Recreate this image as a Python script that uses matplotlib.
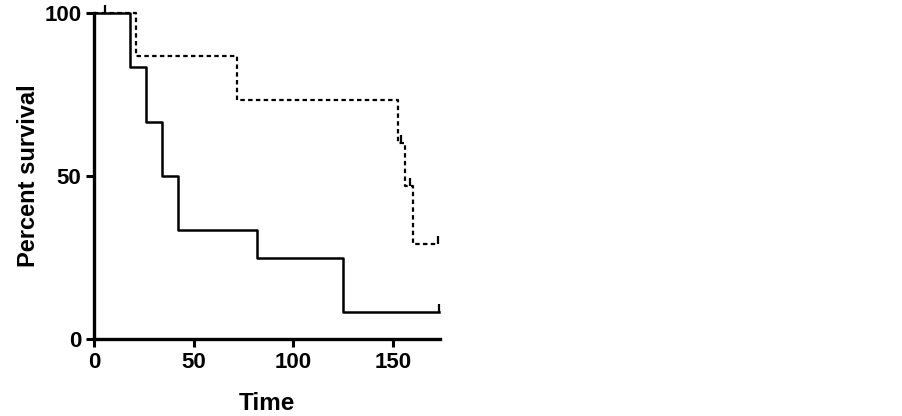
import numpy as np
import matplotlib
matplotlib.use("Agg")
import matplotlib.pyplot as plt
from matplotlib.path import Path

# Kaplan-Meier steps
solid_time = [0, 18, 26, 34, 42, 82, 125, 173]
solid_surv = [100, 83.3, 66.7, 50, 33.3, 25, 8.3, 8.3]
solid_cens_time = [5.5, 173]
solid_cens_surv = [100, 8.3]

dash_time = [0, 21, 72, 152.5, 156, 160, 172.5]
dash_surv = [100, 86.7, 73.3, 60, 47, 29, 29]
dash_cens_time = [154, 158.5, 172.5]
dash_cens_surv = [60, 47, 29]

x_ticks = [0, 50, 100, 150]
y_ticks = [0, 50, 100]

plt.rcParams['font.family'] = ['Liberation Sans', 'DejaVu Sans']
plt.rcParams['font.weight'] = 'bold'

# upward censor tick
up_tick = Path([(0, 0), (0, 1)])

fig = plt.figure(figsize=(9.03, 4.16), dpi=100)
ax = fig.add_axes([0.104, 0.185, 0.383, 0.784])

ax.step(dash_time, dash_surv, where='post', color='black', lw=1.6,
        ls=(0, (2, 1.5)), clip_on=False)
ax.step(solid_time, solid_surv, where='post', color='black', lw=1.8, clip_on=False)
ax.plot(dash_cens_time, dash_cens_surv, ls='none', marker=up_tick, ms=12,
        mew=1.6, color='black', clip_on=False)
ax.plot(solid_cens_time, solid_cens_surv, ls='none', marker=up_tick, ms=12,
        mew=1.6, color='black', clip_on=False)

ax.set_xlim(0, 173.5)
ax.set_ylim(0, 100)
ax.set_xticks(x_ticks)
ax.set_yticks(y_ticks)
ax.tick_params(width=2.2, length=6, labelsize=16, pad=3)
for s in ['top', 'right']:
    ax.spines[s].set_visible(False)
for s in ['left', 'bottom']:
    ax.spines[s].set_linewidth(2.4)

ax.set_xlabel('Time', fontsize=17.5, fontweight='bold', labelpad=14)
ax.set_ylabel('Percent survival', fontsize=17, fontweight='bold', labelpad=3)

fig.savefig('out.png', dpi=100)
